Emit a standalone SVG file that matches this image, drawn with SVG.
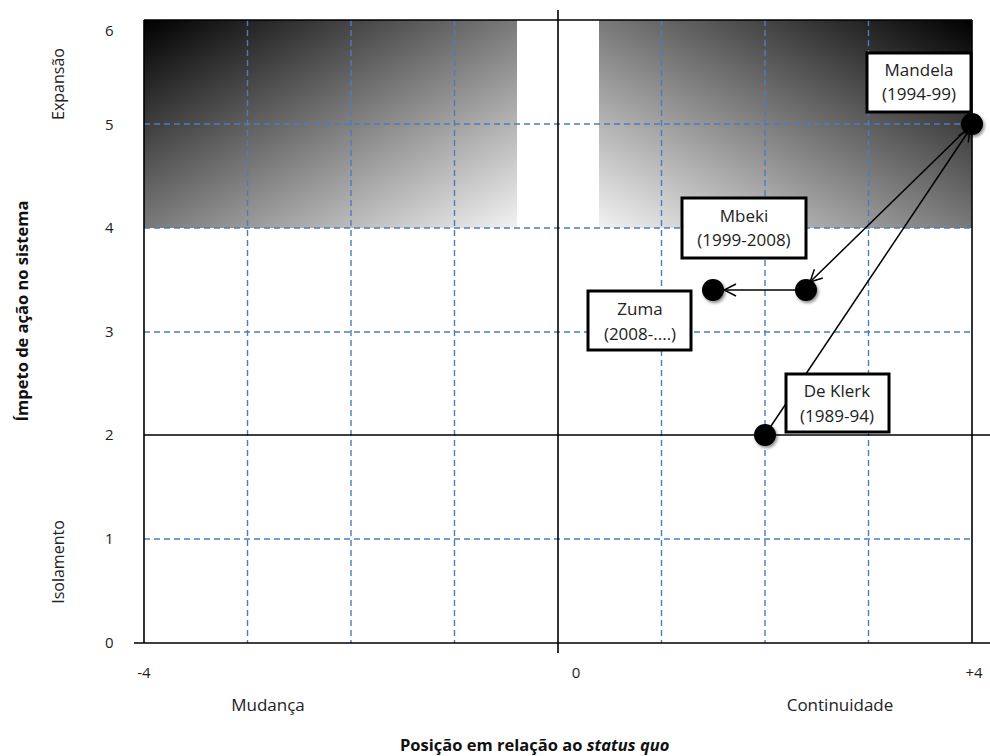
<svg xmlns="http://www.w3.org/2000/svg" width="990" height="756" viewBox="0 0 990 756">
  <style>
    .grid { stroke: #4a7ebb; stroke-width: 1.4; stroke-dasharray: 6 4; fill: none; }
    .axis { stroke: #000; stroke-width: 1.6; fill: none; }
    .tick { font-family: "Open Sans", "Liberation Sans", sans-serif; font-size: 15px; fill: #222; }
    .side { font-family: "Open Sans", "Liberation Sans", sans-serif; font-size: 16px; fill: #222; text-anchor: middle; }
    .lbl { font-family: "Open Sans", "Liberation Sans", sans-serif; font-size: 17px; fill: #222; text-anchor: middle; }
    .title { font-family: "Open Sans", "Liberation Sans", sans-serif; font-size: 16.5px; font-weight: bold; fill: #111; }
    .box { fill: #fff; stroke: #000; stroke-width: 3; }
    .dot { fill: #000; filter: url(#shadow); }
    .conn { stroke: #000; stroke-width: 1.5; fill: none; marker-end: url(#arrow); }
  </style>
  <defs>
    <linearGradient id="gradL" x1="0" y1="0" x2="1" y2="1">
      <stop offset="0" stop-color="#000"/>
      <stop offset="1" stop-color="#f2f2f2"/>
    </linearGradient>
    <linearGradient id="gradR" x1="1" y1="0" x2="0" y2="1">
      <stop offset="0" stop-color="#000"/>
      <stop offset="1" stop-color="#f2f2f2"/>
    </linearGradient>
    <marker id="arrow" viewBox="0 0 14 14" refX="13" refY="7" markerWidth="14" markerHeight="14" markerUnits="userSpaceOnUse" orient="auto">
      <path d="M1,1 L13,7 L1,13" fill="none" stroke="#000" stroke-width="1.5"/>
    </marker>
    <filter id="shadow" x="-50%" y="-50%" width="200%" height="200%">
      <feDropShadow dx="1.5" dy="2" stdDeviation="1.5" flood-color="#000" flood-opacity="0.45"/>
    </filter>
  </defs>

  <!-- shaded expansion zone -->
  <g id="zones">
    <rect x="144" y="20" width="373" height="208" fill="url(#gradL)"/>
    <rect x="599" y="20" width="373" height="208" fill="url(#gradR)"/>
  </g>

  <!-- dashed grid -->
  <g id="grid">
    <line class="grid" x1="247.5" y1="20" x2="247.5" y2="643"/>
    <line class="grid" x1="351" y1="20" x2="351" y2="643"/>
    <line class="grid" x1="454.5" y1="20" x2="454.5" y2="643"/>
    <line class="grid" x1="661.5" y1="20" x2="661.5" y2="643"/>
    <line class="grid" x1="765" y1="20" x2="765" y2="643"/>
    <line class="grid" x1="868.5" y1="20" x2="868.5" y2="643"/>
    <line class="grid" x1="144" y1="124" x2="972" y2="124"/>
    <line class="grid" x1="144" y1="228" x2="972" y2="228"/>
    <line class="grid" x1="144" y1="332" x2="972" y2="332"/>
    <line class="grid" x1="144" y1="539" x2="972" y2="539"/>
  </g>

  <!-- axes and frame -->
  <g id="axes">
    <line class="axis" x1="144" y1="20" x2="972" y2="20"/>
    <line class="axis" x1="144" y1="20" x2="144" y2="643"/>
    <line class="axis" x1="972" y1="20" x2="972" y2="643"/>
    <line class="axis" x1="134" y1="643" x2="990" y2="643"/>
    <line class="axis" x1="144" y1="435" x2="990" y2="435"/>
    <line class="axis" x1="558" y1="10" x2="558" y2="653"/>
  </g>

  <!-- tick labels -->
  <g id="ticks" class="tick">
    <text x="105" y="36">6</text>
    <text x="105" y="130">5</text>
    <text x="105" y="233">4</text>
    <text x="105" y="337">3</text>
    <text x="105" y="440">2</text>
    <text x="105" y="544">1</text>
    <text x="105" y="648">0</text>
    <text x="144" y="678" text-anchor="middle">-4</text>
    <text x="576" y="678" text-anchor="middle">0</text>
    <text x="974" y="678" text-anchor="middle">+4</text>
  </g>

  <!-- axis titles -->
  <g id="axis-titles">
    <text class="lbl" x="268" y="711">Mudança</text>
    <text class="lbl" x="840" y="711">Continuidade</text>
    <text class="title" x="400" y="751">Posição em relação ao <tspan font-style="italic">status quo</tspan></text>
    <text class="title" text-anchor="middle" transform="translate(28,311) rotate(-90)">Ímpeto de ação no sistema</text>
    <text class="side" transform="translate(64,84) rotate(-90)">Expansão</text>
    <text class="side" transform="translate(64,562) rotate(-90)">Isolamento</text>
  </g>

  <!-- connectors -->
  <g id="connectors">
    <line class="conn" x1="765" y1="435" x2="970" y2="129"/>
    <line class="conn" x1="972" y1="124" x2="810" y2="282"/>
    <line class="conn" x1="806" y1="290" x2="724" y2="290"/>
  </g>

  <!-- presidents -->
  <g id="mandela">
    <circle class="dot" cx="972" cy="124" r="11"/>
    <rect class="box" x="867" y="53" width="104" height="59"/>
    <text class="lbl" x="919" y="76">Mandela</text>
    <text class="lbl" x="919" y="100">(1994-99)</text>
  </g>
  <g id="mbeki">
    <circle class="dot" cx="806" cy="290" r="11"/>
    <rect class="box" x="682" y="198" width="124" height="60"/>
    <text class="lbl" x="744" y="222">Mbeki</text>
    <text class="lbl" x="744" y="246">(1999-2008)</text>
  </g>
  <g id="zuma">
    <circle class="dot" cx="713" cy="290" r="11"/>
    <rect class="box" x="588" y="291" width="103" height="59"/>
    <text class="lbl" x="640" y="315">Zuma</text>
    <text class="lbl" x="640" y="340">(2008-....)</text>
  </g>
  <g id="deklerk">
    <circle class="dot" cx="765" cy="435" r="11"/>
    <rect class="box" x="786" y="374" width="103" height="58"/>
    <text class="lbl" x="837" y="397">De Klerk</text>
    <text class="lbl" x="837" y="422">(1989-94)</text>
  </g>
</svg>
